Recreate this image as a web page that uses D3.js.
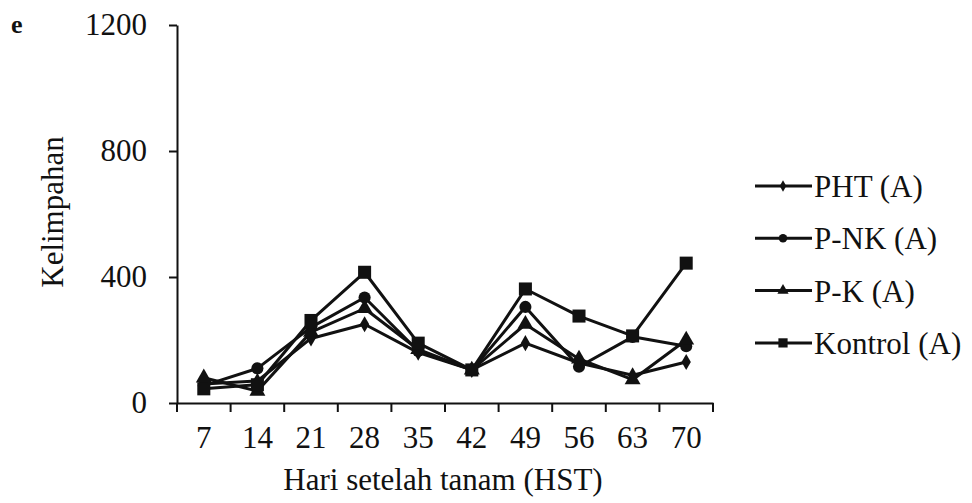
<!DOCTYPE html>
<html><head><meta charset="utf-8">
<script src="https://cdn.jsdelivr.net/npm/d3@7"></script>
<style>body{margin:0;background:#fff}svg{display:block}text{font-family:"Liberation Serif","Times New Roman",serif;fill:#111}</style>
</head><body>
<script>
const categories = ["7","14","21","28","35","42","49","56","63","70"];
const PHT = [60, 70, 205, 250, 160, 105, 190, 127, 88, 130];
const PNK = [55, 110, 240, 335, 165, 105, 305, 115, 210, 180];
const PK  = [80, 38, 225, 300, 170, 105, 250, 140, 74, 200];
const Kontrol = [45, 58, 262, 415, 190, 105, 362, 276, 213, 444];
const seriesNames = ["PHT (A)", "P-NK (A)", "P-K (A)", "Kontrol (A)"];
const seriesValues = [PHT, PNK, PK, Kontrol];
const markers = ["diamond", "circle", "triangle", "square"];
const yTicks = [0, 400, 800, 1200];

const W = 972, H = 503;
const FS = "31px";
const svg = d3.select("body").append("svg").attr("width", W).attr("height", H);
const x = d3.scaleBand().domain(categories).range([177, 713]);
const y = d3.scaleLinear().domain([0, 1200]).range([403, 25]);

const symType = {diamond: d3.symbolDiamond, circle: d3.symbolCircle, triangle: d3.symbolTriangle, square: d3.symbolSquare};
const symSize = {diamond: 75, circle: 115, triangle: 110, square: 170};

// axes
const yAxis = svg.append("g").attr("transform", "translate(177,0)")
  .call(d3.axisLeft(y).tickValues(yTicks).tickFormat(d3.format("d")).tickSize(8).tickSizeOuter(0).tickPadding(22));
const xAxis = svg.append("g").attr("transform", "translate(0,403)")
  .call(d3.axisBottom(x).tickSizeOuter(0).tickSize(0).tickPadding(23));
[yAxis, xAxis].forEach(g => {
  g.select(".domain").attr("stroke", "#111").attr("stroke-width", 2);
  g.selectAll("line").attr("stroke", "#111").attr("stroke-width", 2);
  g.selectAll("text").style("font-size", FS).attr("fill", "#222").style("font-family", "'Liberation Serif',serif");
});
// x ticks at band boundaries
const bounds = categories.map(c => x(c)).concat([x.range()[1]]);
svg.append("g").selectAll("line").data(bounds).join("line")
  .attr("x1", d => d).attr("x2", d => d).attr("y1", 403).attr("y2", 412)
  .attr("stroke", "#111").attr("stroke-width", 2);

// lines
const line = d3.line().x((d, i) => x(categories[i]) + x.bandwidth() / 2).y(d => y(d));
seriesValues.forEach((vals, si) => {
  svg.append("path").datum(vals).attr("d", line)
    .attr("fill", "none").attr("stroke", "#111").attr("stroke-width", 3).attr("stroke-linejoin", "round");
});
seriesValues.forEach((vals, si) => {
  const m = markers[si];
  svg.append("g").selectAll("path").data(vals).join("path")
    .attr("d", d3.symbol().type(symType[m]).size(symSize[m]))
    .attr("transform", (d, i) => `translate(${x(categories[i]) + x.bandwidth() / 2},${y(d)})`)
    .attr("fill", "#111");
});

// titles
svg.append("text").attr("x", 443).attr("y", 490).attr("text-anchor", "middle")
  .style("font-size", FS).attr("fill", "#222").text("Hari setelah tanam (HST)");
svg.append("text").attr("transform", "translate(63,212) rotate(-90)").attr("text-anchor", "middle")
  .style("font-size", FS).attr("fill", "#222").text("Kelimpahan");
svg.append("text").attr("x", 11).attr("y", 33).style("font-size", "26px").style("font-weight", "bold").text("e");

// legend
const leg = svg.append("g");
seriesNames.forEach((name, i) => {
  const cy = 186 + i * 52.3;
  leg.append("line").attr("x1", 755).attr("x2", 812).attr("y1", cy).attr("y2", cy)
    .attr("stroke", "#111").attr("stroke-width", 3);
  const m = markers[i];
  leg.append("path").attr("d", d3.symbol().type(symType[m]).size(symSize[m] * 0.5))
    .attr("transform", `translate(783,${cy})`).attr("fill", "#111");
  leg.append("text").attr("x", 814).attr("y", cy + 11).style("font-size", FS).attr("fill", "#222").text(name);
});
</script>
</body></html>
